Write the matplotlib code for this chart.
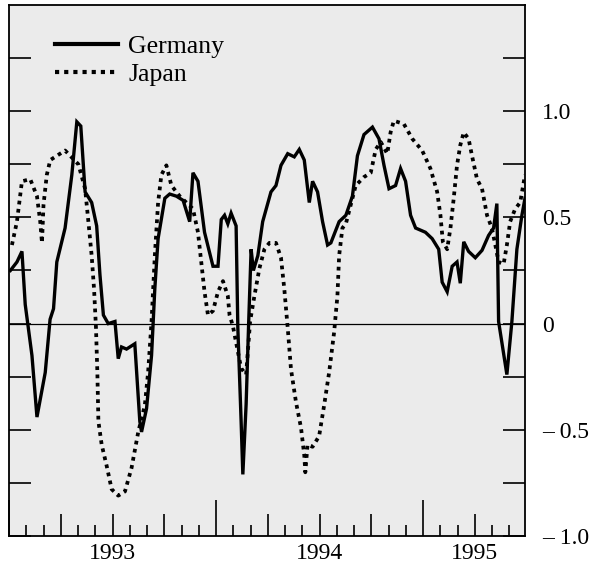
import matplotlib
matplotlib.use('Agg')
import matplotlib.pyplot as plt
import numpy as np

# ── data (x = months since Jan 1993) ─────────────────────────────────────────
ger_month = [0.08, 0.46, 0.75, 0.94, 1.33, 1.62, 2.10, 2.38, 2.58, 2.77, 3.25, 3.64,
             3.93, 4.16, 4.41, 4.79, 5.08, 5.27, 5.47, 5.75, 6.14, 6.33, 6.52, 6.81,
             7.29, 7.58, 7.68, 7.97, 8.26, 8.45, 8.64, 9.03, 9.31, 9.70, 10.09, 10.28,
             10.47, 10.66, 10.95, 11.33, 11.82, 12.11, 12.30, 12.49, 12.68, 12.87, 13.16,
             13.26, 13.45, 13.55, 13.74, 13.89, 14.03, 14.16, 14.42, 14.70, 15.18, 15.47,
             15.76, 16.15, 16.53, 16.82, 17.11, 17.40, 17.59, 17.88, 18.17, 18.46, 18.65,
             19.13, 19.52, 19.90, 20.19, 20.57, 21.06, 21.44, 21.73, 22.02, 22.40, 22.69,
             22.98, 23.27, 23.56, 24.13, 24.52, 24.90, 25.10, 25.39, 25.68, 25.96, 26.15,
             26.35, 26.63, 27.02, 27.41, 27.79, 28.08, 28.27, 28.37, 28.85, 29.14, 29.43,
             29.72, 29.90]
ger_value = [0.25, 0.29, 0.34, 0.09, -0.15, -0.44, -0.23, 0.02, 0.07, 0.29, 0.45, 0.70,
             0.95, 0.93, 0.62, 0.57, 0.46, 0.23, 0.04, 0.00, 0.01, -0.165, -0.11, -0.12,
             -0.095, -0.46, -0.51, -0.40, -0.15, 0.165, 0.40, 0.59, 0.61, 0.60, 0.58, 0.53,
             0.48, 0.71, 0.67, 0.43, 0.27, 0.27, 0.49, 0.51, 0.47, 0.52, 0.46,
             -0.02, -0.46, -0.71, -0.38, 0.01, 0.35, 0.25, 0.32, 0.48, 0.62, 0.65,
             0.745, 0.80, 0.785, 0.82, 0.77, 0.57, 0.67, 0.62, 0.48, 0.37, 0.38,
             0.48, 0.51, 0.60, 0.79, 0.89, 0.925, 0.87, 0.745, 0.635, 0.65, 0.73,
             0.67, 0.51, 0.45, 0.43, 0.40, 0.35, 0.195, 0.15, 0.27, 0.29, 0.19,
             0.385, 0.34, 0.31, 0.345, 0.415, 0.45, 0.565, 0.01, -0.24, 0.01, 0.35,
             0.51, 0.59]

jpn_month = [0.17, 0.46, 0.75, 1.23, 1.62, 1.81, 1.91, 2.00, 2.19, 2.39, 2.77, 3.25,
             4.02, 4.41, 4.60, 4.79, 4.93, 5.04, 5.12, 5.18, 5.37, 5.66, 5.95, 6.33,
             6.72, 7.10, 7.49, 7.87, 8.06, 8.26, 8.45, 8.64, 8.83, 9.12, 9.41, 9.89,
             10.66, 10.95, 11.14, 11.33, 11.53, 11.82, 12.11, 12.40, 12.68, 12.78, 12.97,
             13.45, 13.74, 13.97, 14.22, 14.51, 14.80, 15.09, 15.47, 15.76, 15.95, 16.15,
             16.34, 16.63, 16.92, 17.11, 17.17, 17.30, 17.59, 17.97, 18.26, 18.55, 18.84,
             19.03, 19.13, 19.32, 19.52, 20.09, 20.57, 20.96, 21.25, 21.54, 21.92, 22.11,
             22.30, 22.88, 23.37, 23.94, 24.42, 24.81, 25.00, 25.14, 25.39, 25.58, 25.77,
             25.96, 26.15, 26.35, 26.63, 26.83, 27.12, 27.41, 27.70, 27.98, 28.18, 28.37,
             28.66, 28.85, 29.04, 29.33, 29.62, 29.90]
jpn_value = [0.37, 0.48, 0.67, 0.68, 0.60, 0.48, 0.38, 0.56, 0.70, 0.77, 0.79, 0.815,
             0.75, 0.635, 0.48, 0.32, 0.16, -0.02, -0.23, -0.46, -0.57, -0.67, -0.78, -0.81,
             -0.79, -0.68, -0.51, -0.385, -0.23, 0.01, 0.32, 0.57, 0.70, 0.745, 0.65, 0.60,
             0.54, 0.43, 0.29, 0.15, 0.04, 0.06, 0.15, 0.20, 0.13, 0.04, -0.01,
             -0.21, -0.24, 0.01, 0.13, 0.26, 0.35, 0.38, 0.38, 0.31, 0.165, -0.02,
             -0.215, -0.37, -0.49, -0.62, -0.70, -0.57, -0.58, -0.53, -0.385, -0.23, -0.04,
             0.13, 0.32, 0.45, 0.47, 0.65, 0.69, 0.71, 0.82, 0.855, 0.80, 0.90,
             0.955, 0.94, 0.87, 0.815, 0.73, 0.62, 0.51, 0.385, 0.35, 0.45, 0.59,
             0.745, 0.84, 0.90, 0.87, 0.79, 0.68, 0.635, 0.51, 0.45, 0.37, 0.29,
             0.28, 0.37, 0.48, 0.54, 0.57, 0.70]

y_ticks = [-1.0, -0.75, -0.5, -0.25, 0.0, 0.25, 0.5, 0.75, 1.0, 1.25]
y_labels = ['\u2013 1.0', '', '\u2013 0.5', '', '0', '', '0.5', '', '1.0', '']
quarter_ticks = [0, 3, 6, 9, 12, 15, 18, 21, 24, 27]
year_ticks = [0, 12, 24]
x_labels = {6: '1993', 18: '1994', 27: '1995'}

plt.rcParams['font.family'] = ['Liberation Serif', 'DejaVu Serif']

fig = plt.figure(figsize=(5.90, 5.66), dpi=100, facecolor='white')
ax = fig.add_axes([9 / 590, 1 - 536 / 566, 516 / 590, 531 / 566])
ax.set_facecolor('#ebebeb')

ax.axhline(0, color='black', lw=0.9, zorder=2)
ax.plot(ger_month, ger_value, color='black', lw=2.4, solid_joinstyle='miter',
        label='Germany', zorder=4)
ax.plot(jpn_month, jpn_value, color='black', lw=2.7, linestyle=(0, (1.0, 1.2)),
        dash_capstyle='butt', label='Japan', zorder=3)

ax.set_xlim(0.1, 29.9)
ax.set_ylim(-1.0, 1.5)

# y axis: ticks both sides, labels on the right
ax.set_yticks(y_ticks)
ax.set_yticklabels(y_labels)
ax.tick_params(axis='y', direction='in', length=16, width=1.2, left=True, right=True,
               labelleft=False, labelright=True, labelsize=17, pad=12)

# x axis: monthly minor ticks, quarter ticks, long year ticks
ax.set_xticks(np.arange(1, 30), minor=True)
ax.set_xticks(quarter_ticks)
ax.set_xticklabels([x_labels.get(q, '') for q in quarter_ticks])
ax.tick_params(axis='x', which='minor', direction='in', length=8, width=1.2)
ax.tick_params(axis='x', which='major', direction='in', length=16, width=1.2,
               labelsize=17, pad=5)
for q, tick in zip(quarter_ticks, ax.xaxis.get_major_ticks()):
    if q in year_ticks:
        tick.tick1line.set_markersize(26)

for spine in ax.spines.values():
    spine.set_linewidth(1.3)

leg = ax.legend(loc='upper left', bbox_to_anchor=(0.089, 0.943), frameon=False,
                fontsize=18.5, handlelength=2.45, handletextpad=0.4, labelspacing=0.2,
                borderpad=0, borderaxespad=0)
for line in leg.get_lines():
    line.set_linewidth(3.0)

fig.savefig('out.png', dpi=100, facecolor='white')
